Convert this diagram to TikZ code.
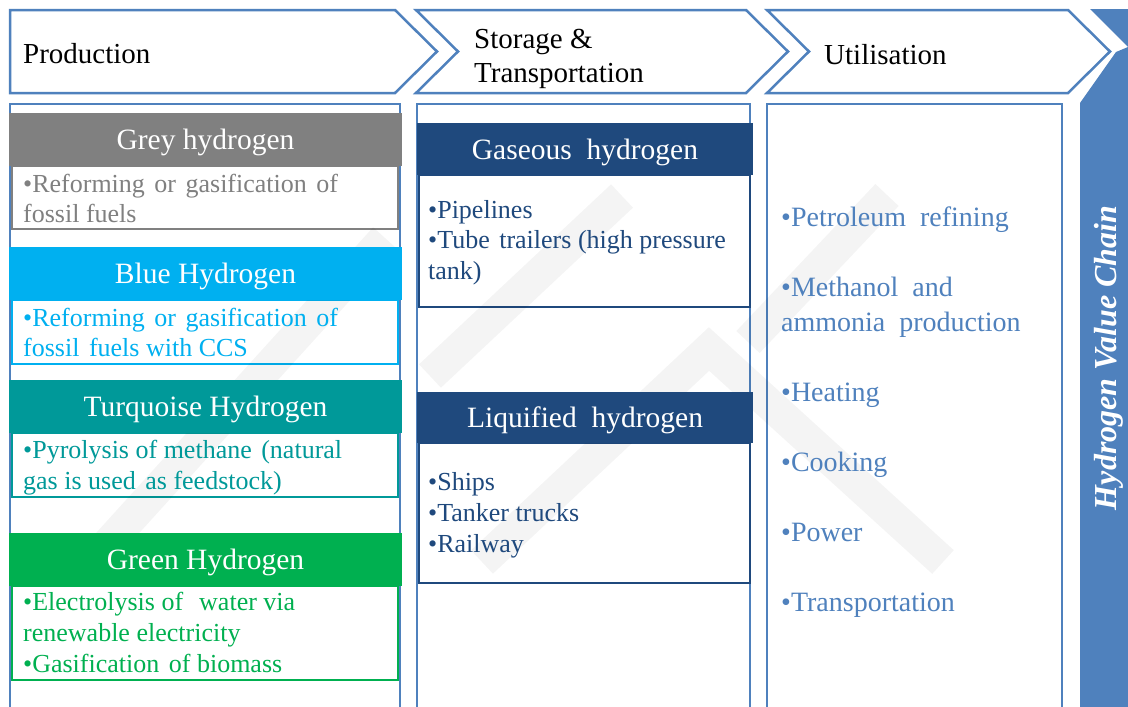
\documentclass[tikz,border=0pt]{standalone}
\usepackage{fontspec}
\setmainfont{Liberation Serif}
\definecolor{chev}{RGB}{79,129,189}
\definecolor{navy}{RGB}{31,73,125}
\definecolor{greyh}{RGB}{128,128,128}
\definecolor{blueh}{RGB}{0,176,240}
\definecolor{turqh}{RGB}{0,153,153}
\definecolor{greenh}{RGB}{0,176,80}
\newcommand{\wsp}{\hspace{9.5pt}}
\tikzset{
  chevbox/.style={draw=chev, line width=2.5pt, fill=white, line join=miter},
  panelbox/.style={draw=chev, line width=2.5pt},
  chevtxt/.style={anchor=base west, inner sep=0pt, font=\fontsize{29}{34}\selectfont, text=black},
  hdrbox/.style={inner sep=0pt, text height=20pt, text depth=0pt, text=white,
     font=\fontsize{29.5}{34}\selectfont, draw=none},
  bodybox/.style={inner sep=0pt, fill=white, line width=2.5pt},
  bodytxt/.style={anchor=base west, inner sep=0pt, font=\fontsize{26}{31}\selectfont},
  utiltxt/.style={anchor=base west, inner sep=0pt, font=\fontsize{28}{33}\selectfont, text=chev},
  wmark/.style={draw=black, opacity=0.045, line width=32pt, line cap=butt, line join=miter}
}
\begin{document}
\begin{tikzpicture}[x=1pt,y=-1pt]
\useasboundingbox (0,0) rectangle (1128,707);
\fill[white] (0,0) rectangle (1128,707);

% top chevrons
\draw[chevbox] (10,10) -- (395,10) -- (437,51.5) -- (395,93) -- (10,93) -- cycle;
\draw[chevbox] (416,10) -- (746,10) -- (788,51.5) -- (746,93) -- (416,93) -- (458,51.5) -- cycle;
\draw[chevbox] (767,10) -- (1068,10) -- (1110,51.5) -- (1068,93) -- (767,93) -- (809,51.5) -- cycle;
\node[chevtxt] (prod) at (23,63) {Production};
\node[chevtxt] (stor1) at (474,48) {Storage \&};
\node[chevtxt] (stor2) at (474,82) {Transportation};
\node[chevtxt] (util) at (824,64) {Utilisation};

% right bar
\fill[chev] (1090,9) -- (1128,9) -- (1128,707) -- (1080,707) -- (1080,103) -- (1116,52) -- (1128,47) -- cycle;
\node[rotate=90, inner sep=0pt, text=white, font=\bfseries\itshape\fontsize{32}{36}\selectfont] (hvc) at (1109,358) {Hydrogen Value Chain};

% panels
\draw[panelbox] (10,104) rectangle (400,715);
\draw[panelbox] (417,104) rectangle (750,715);
\draw[panelbox] (767,104) rectangle (1062,715);

% Production column
\node[bodybox, draw=greyh, minimum width=386pt, minimum height=63pt] (greyb) at (205,197.5) {};
\node[bodybox, draw=blueh, minimum width=386pt, minimum height=64pt] (blueb) at (205,332) {};
\node[bodybox, draw=turqh, minimum width=386pt, minimum height=64pt] (turqb) at (205,465) {};
\node[bodybox, draw=greenh, minimum width=386pt, minimum height=94pt] (greenb) at (205,633) {};

% Storage column boxes
\node[bodybox, draw=navy, minimum width=331pt, minimum height=132pt] (gasb) at (584.5,241) {};
\node[bodybox, draw=navy, minimum width=331pt, minimum height=140pt] (liqb) at (584.5,513) {};

% faint watermark (behind headers and texts)
\draw[wmark] (95,558) -- (385,238);
\draw[wmark] (430,376) -- (622,196);
\draw[wmark] (748,342) -- (887,195);
\draw[wmark] (482,562) -- (709,349) -- (943,562);

% headers
\node[hdrbox, fill=greyh, minimum width=393pt, minimum height=53pt] (greyhd) at (205.5,139.5) {Grey hydrogen};
\node[hdrbox, fill=blueh, minimum width=393pt, minimum height=53pt] (bluehd) at (205.5,273.5) {Blue Hydrogen};
\node[hdrbox, fill=turqh, minimum width=393pt, minimum height=53pt] (turqhd) at (205.5,406.5) {Turquoise Hydrogen};
\node[hdrbox, fill=greenh, minimum width=393pt, minimum height=53pt] (greenhd) at (205.5,559.5) {Green Hydrogen};
\node[hdrbox, fill=navy, minimum width=336pt, minimum height=52pt] (gashd) at (585,149) {Gaseous\ \ hydrogen};
\node[hdrbox, fill=navy, minimum width=336pt, minimum height=51pt] (liqhd) at (585,417.5) {Liquified\ \ hydrogen};

% texts
\node[bodytxt, text=greyh] (g1) at (23,192) {•Reforming\wsp or\wsp gasification\wsp of};
\node[bodytxt, text=greyh] (g2) at (23,222) {fossil fuels};
\node[bodytxt, text=blueh] (b1) at (23,326) {•Reforming\wsp or\wsp gasification\wsp of};
\node[bodytxt, text=blueh] (b2) at (23,356) {fossil\wsp fuels with CCS};
\node[bodytxt, text=turqh] (t1) at (23,458) {•Pyrolysis of methane\wsp (natural};
\node[bodytxt, text=turqh] (t2) at (23,489) {gas is used\wsp as feedstock)};
\node[bodytxt, text=greenh] (e1) at (23,610) {•Electrolysis of\wsp\ water via};
\node[bodytxt, text=greenh] (e2) at (23,641) {renewable electricity};
\node[bodytxt, text=greenh] (e3) at (23,672) {•Gasification\wsp of biomass};

\node[bodytxt, text=navy] (s1) at (428,218) {•Pipelines};
\node[bodytxt, text=navy] (s2) at (428,248) {•Tube\wsp trailers (high pressure};
\node[bodytxt, text=navy] (s3) at (428,279) {tank)};
\node[bodytxt, text=navy] (l1) at (428,490) {•Ships};
\node[bodytxt, text=navy] (l2) at (428,521) {•Tanker trucks};
\node[bodytxt, text=navy] (l3) at (428,552) {•Railway};

% Utilisation column
\node[utiltxt] (u1) at (781,226) {•Petroleum\ \ refining};
\node[utiltxt] (u2) at (781,296) {•Methanol\ \ and};
\node[utiltxt] (u3) at (781,331) {ammonia\ \ production};
\node[utiltxt] (u4) at (781,401) {•Heating};
\node[utiltxt] (u5) at (781,471) {•Cooking};
\node[utiltxt] (u6) at (781,541) {•Power};
\node[utiltxt] (u7) at (781,611) {•Transportation};
\end{tikzpicture}
\end{document}
